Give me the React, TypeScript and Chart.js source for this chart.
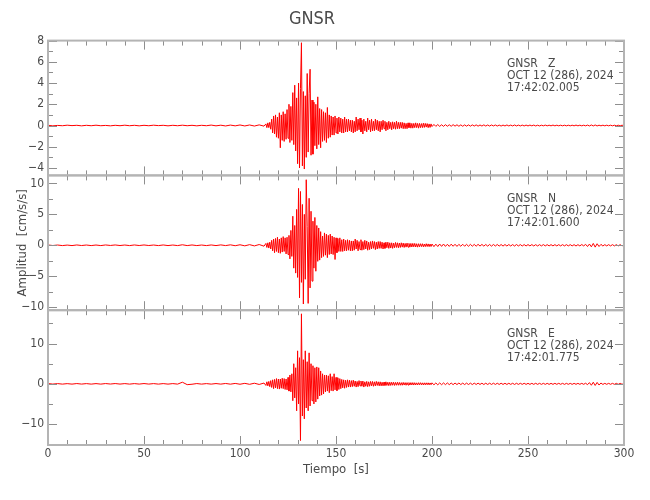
import React, { useEffect, useRef } from 'react';
import { Chart, registerables } from 'chart.js';

Chart.register(...registerables);

// ---------- text ----------
const TITLE = 'GNSR';
const STATION = 'GNSR';
const COMPONENTS = ['Z', 'N', 'E'];
const DATE_LABEL = 'OCT 12 (286), 2024';
const START_TIMES = ['17:42:02.005', '17:42:01.600', '17:42:01.775'];
const X_LABEL = 'Tiempo  [s]';
const Y_LABEL = 'Amplitud  [cm/s/s]';

// ---------- axes ----------
const X_MIN = 0;
const X_MAX = 300;
const X_MAJOR = [0, 50, 100, 150, 200, 250, 300];
const X_MINOR = [10, 20, 30, 40, 60, 70, 80, 90, 110, 120, 130, 140, 160, 170, 180, 190, 210, 220, 230, 240, 260, 270, 280, 290];

const Z_RANGE = [-4.7, 8];
const Z_MAJOR = [-4, -2, 0, 2, 4, 6, 8];
const Z_MINOR = [-3, -1, 1, 3, 5, 7];

const N_RANGE = [-10.5, 11.3];
const N_MAJOR = [-10, -5, 0, 5, 10];
const N_MINOR = [-7.5, -2.5, 2.5, 7.5];

const E_RANGE = [-15.2, 18.3];
const E_MAJOR = [-10, 0, 10];
const E_MINOR = [-15, -5, 5, 15];

// ---------- sampling of the traces (s) ----------
const PRE_START = 0;
const PRE_STEP = 2.5;
const EVT_START = 113.5;
const EVT_STEP = 0.5;
const TAIL_START = 200;
const TAIL_STEP = 1;

// ---------- Z component (cm/s/s) ----------
const Z_PRE = [
  0.02, -0.03, 0.01, -0.02, 0.03, -0.01, 0.02, -0.03, 0.02, -0.02,
  0.03, -0.02, 0.01, -0.03, 0.02, -0.02, 0.03, -0.02, 0.02, -0.03,
  0.02, -0.02, 0.03, -0.01, 0.02, -0.03, 0.02, -0.02, 0.03, -0.02,
  0.02, -0.03, 0.02, -0.02, 0.04, -0.03, 0.03, -0.04, 0.04, -0.03,
  0.05, -0.04, 0.05, -0.05, 0.06, -0.06,
];
const Z_EVENT = [
  0.15, -0.2, 0.25, -0.2, 0.3, -0.35,
  0.6, -0.7, 0.9, -0.8, 1.0, -1.1, 0.8, -1.2,
  1.2, -2.1, 1.0, -1.4, 1.3, -1.5, 1.1, -1.3,
  1.5, -1.2, 2.0, -1.6, 1.8, -1.4, 3.1, -1.8,
  3.8, -2.4, 2.6, -3.6, 4.0, -4.0, 3.5, 7.8,
  -3.8, 3.2, -4.1, 2.8, -3.0, 4.9, -2.5, 3.0,
  5.3, -2.8, 2.4, -2.7, 2.2, -1.9, 2.0, -2.2,
  2.7, -1.8, 1.6, -2.1, 1.5, -1.5, 1.3, -1.4,
  1.2, -1.6, 1.7, -1.2, 1.0, -1.1, 0.9, -0.9,
  0.8, -0.9, 0.9, -0.7, 0.7, -0.8, 0.8, -0.6,
  0.7, -0.7, 0.6, -0.7, 0.8, -0.6, 0.6, -0.6,
  0.6, -0.5, 0.5, -0.6,
  0.5, -0.7, 0.4, -0.6, 0.8, -0.5, 0.6, -0.4, 0.7, -0.6,
  0.5, -0.8, 0.6, -0.5, 0.4, -0.6, 0.7, -0.4, 0.5, -0.6,
  0.6, -0.5, 0.4, -0.5, 0.6, -0.4, 0.5, -0.5, 0.4, -0.6,
  0.4, -0.4, 0.5, -0.3, 0.4, -0.5, 0.3, -0.4, 0.4, -0.3,
  0.3, -0.4, 0.35, -0.3, 0.3, -0.35, 0.4, -0.3, 0.3, -0.3,
  0.3, -0.25, 0.3, -0.3, 0.25, -0.3, 0.2, -0.3, 0.25, -0.2,
  0.25, -0.25, 0.2, -0.25, 0.2, -0.2, 0.25, -0.2, 0.2, -0.25,
  0.2, -0.2, 0.18, -0.2, 0.22, -0.18, 0.2, -0.15, 0.18, -0.2,
  0.15, -0.18, 0.15,
];
const Z_TAIL = [
  -0.1, 0.1, -0.08, 0.09, -0.08, 0.07, -0.08, 0.08, -0.07, 0.07,
  -0.07, 0.08, -0.06, 0.07, -0.07, 0.06, -0.07, 0.06, -0.06, 0.06,
  -0.06, 0.06, -0.05, 0.06, -0.06, 0.05, -0.05, 0.06, -0.05, 0.05,
  -0.05, 0.05, -0.04, 0.05, -0.05, 0.04, -0.05, 0.04, -0.04, 0.05,
  -0.04, 0.04, -0.04, 0.05, -0.04, 0.04, -0.04, 0.04, -0.04, 0.04,
  -0.04, 0.04, -0.03, 0.04, -0.04, 0.03, -0.04, 0.03, -0.03, 0.04,
  -0.03, 0.03, -0.03, 0.04, -0.03, 0.03, -0.03, 0.03, -0.03, 0.03,
  -0.03, 0.03, -0.03, 0.03, -0.03, 0.04, -0.03, 0.03, -0.03, 0.03,
  -0.03, 0.04, -0.04, 0.05, -0.04, 0.05, -0.04, 0.03, -0.03, 0.03,
  -0.03, 0.03, -0.03, 0.03, -0.03, 0.03, -0.03, 0.03, -0.03, 0.03,
  -0.03,
];

// ---------- N component ----------
const N_PRE = [
  0.05, -0.04, 0.04, -0.05, 0.03, -0.05, 0.05, -0.04, 0.04, -0.05,
  0.04, -0.05, 0.05, -0.03, 0.05, -0.04, 0.04, -0.05, 0.05, -0.04,
  0.05, -0.04, 0.04, -0.05, 0.05, -0.05, 0.04, -0.05, 0.08, -0.05,
  0.05, -0.05, 0.04, -0.05, 0.05, -0.05, 0.06, -0.05, 0.07, -0.07,
  0.08, -0.09, 0.1, -0.1, 0.12, -0.15,
];
const N_EVENT = [
  0.3, -0.35, 0.4, -0.45, 0.5, -0.6,
  0.8, -0.9, 1.0, -1.2, 1.1, -1.0, 1.3, -1.2,
  1.0, -1.3, 1.2, -1.1, 1.4, -1.0, 1.2, -1.4,
  1.3, -1.5, 1.6, -2.2, 2.4, -1.8, 4.7, -3.7,
  3.2, -4.5, 5.8, -5.2, 9.2, -8.5, 8.7, -6.0,
  6.6, -9.5, 5.0, -5.5, 10.6, 3.0, -9.4, 7.6,
  -6.9, 5.5, -5.8, 3.9, -3.7, 4.5, -4.2, 3.2,
  -2.6, 2.8, -2.4, 2.2, -2.0, 1.5, -1.8, 2.0,
  -1.6, 1.8, -2.0, 1.6, -1.5, 1.8, -1.4, 1.5,
  -1.5, 1.3, -2.3, 1.2, -1.2, 1.1, -1.0, 1.2,
  -1.0, 0.9, -1.0, 1.0, -0.9, 0.8, -0.9, 0.9,
  -0.8, 0.8, -0.9, 0.7,
  -0.9, 0.7, -0.8, 1.0, -0.6, 0.8, -0.9, 0.6, -0.7, 0.9,
  -0.8, 0.6, -0.7, 0.8, -0.6, 0.7, -0.8, 0.5, -0.7, 0.6,
  -0.6, 0.7, -0.5, 0.6, -0.7, 0.5, -0.6, 0.6, -0.5, 0.6,
  -0.5, 0.5, -0.6, 0.4, -0.5, 0.5, -0.4, 0.5, -0.5, 0.4,
  -0.45, 0.4, -0.5, 0.35, -0.4, 0.45, -0.35, 0.4, -0.4, 0.35,
  -0.35, 0.4, -0.3, 0.35, -0.35, 0.3, -0.3, 0.35, -0.3, 0.3,
  -0.3, 0.3, -0.28, 0.3, -0.25, 0.3, -0.28, 0.25, -0.3, 0.25,
  -0.25, 0.25, -0.22, 0.25, -0.25, 0.2, -0.22, 0.25, -0.2, 0.22,
  -0.22, 0.2, -0.2,
];
const N_TAIL = [
  0.2, -0.22, 0.18, -0.2, 0.2, -0.18, 0.2, -0.18, 0.16, -0.18,
  0.18, -0.16, 0.16, -0.18, 0.15, -0.16, 0.16, -0.15, 0.15, -0.16,
  0.15, -0.15, 0.14, -0.15, 0.15, -0.13, 0.14, -0.14, 0.13, -0.14,
  0.13, -0.14, 0.13, -0.12, 0.13, -0.13, 0.12, -0.13, 0.12, -0.12,
  0.12, -0.12, 0.11, -0.12, 0.12, -0.11, 0.11, -0.12, 0.11, -0.11,
  0.11, -0.1, 0.11, -0.11, 0.1, -0.11, 0.1, -0.1, 0.11, -0.1,
  0.1, -0.1, 0.1, -0.1, 0.1, -0.1, 0.1, -0.1, 0.1, -0.1,
  0.1, -0.1, 0.1, -0.1, 0.1, -0.12, 0.1, -0.1, 0.12, -0.1,
  0.15, -0.2, 0.2, -0.25, 0.3, -0.3, 0.25, -0.2, 0.15, -0.12,
  0.1, -0.1, 0.1, -0.1, 0.1, -0.1, 0.1, -0.1, 0.1, -0.1,
  0.1,
];

// ---------- E component ----------
const E_PRE = [
  0.07, -0.06, 0.06, -0.07, 0.05, -0.07, 0.07, -0.06, 0.06, -0.07,
  0.06, -0.07, 0.07, -0.05, 0.07, -0.06, 0.06, -0.07, 0.06, -0.06,
  0.07, -0.06, 0.06, -0.07, 0.06, -0.07, 0.06, -0.07, 0.4, -0.2,
  -0.1, 0.07, -0.07, 0.06, -0.07, 0.07, -0.07, 0.09, -0.08, 0.1,
  -0.1, 0.12, -0.12, 0.15, -0.15, 0.2,
];
const E_EVENT = [
  -0.4, 0.5, -0.5, 0.6, -0.7, 0.8,
  -0.9, 1.0, -1.2, 1.1, -1.0, 1.3, -1.2, 1.2,
  -1.3, 1.2, -1.1, 1.4, -1.2, 1.3, -1.4, 1.2,
  -1.5, 1.6, -1.8, 2.2, -2.0, 2.5, -4.2, 5.0,
  -3.5, 4.0, -6.7, 8.2, -5.0, 6.5, -14.1, 17.4,
  -8.0, 6.0, -8.7, 8.2, -6.0, 5.5, -6.7, 7.7,
  -5.5, 5.0, -4.2, 4.5, -5.0, 4.0, -4.5, 4.2,
  -3.8, 4.0, -3.0, 3.2, -2.8, 2.5, -2.5, 2.2,
  -2.0, 2.2, -1.8, 2.0, -2.2, 2.5, -1.7, 1.8,
  -1.8, 2.5, -1.5, 1.6, -1.7, 1.5, -1.4, 1.3,
  -1.2, 1.1, -1.0, 1.0, -1.1, 0.9, -0.9, 1.0,
  -0.8, 0.9, -0.8, 0.8,
  -0.7, 0.9, -0.6, 0.7, -0.8, 0.6, -0.7, 0.8, -0.5, 0.7,
  -0.6, 0.7, -0.8, 0.5, -0.6, 0.6, -0.7, 0.5, -0.6, 0.6,
  -0.5, 0.6, -0.6, 0.5, -0.5, 0.6, -0.4, 0.5, -0.5, 0.5,
  -0.5, 0.4, -0.5, 0.45, -0.4, 0.5, -0.4, 0.4, -0.45, 0.4,
  -0.4, 0.4, -0.35, 0.4, -0.4, 0.35, -0.35, 0.4, -0.35, 0.35,
  -0.35, 0.3, -0.35, 0.35, -0.3, 0.3, -0.35, 0.3, -0.3, 0.3,
  -0.3, 0.3, -0.28, 0.3, -0.3, 0.28, -0.28, 0.25, -0.28, 0.28,
  -0.25, 0.28, -0.25, 0.25, -0.28, 0.25, -0.25, 0.25, -0.22, 0.25,
  -0.25, 0.22, -0.22,
];
const E_TAIL = [
  0.25, -0.25, 0.22, -0.25, 0.22, -0.22, 0.22, -0.2, 0.22, -0.2,
  0.2, -0.2, 0.2, -0.18, 0.2, -0.18, 0.18, -0.18, 0.18, -0.17,
  0.17, -0.18, 0.17, -0.16, 0.17, -0.16, 0.16, -0.17, 0.16, -0.16,
  0.16, -0.15, 0.16, -0.15, 0.15, -0.15, 0.15, -0.15, 0.14, -0.15,
  0.14, -0.14, 0.14, -0.15, 0.14, -0.14, 0.14, -0.13, 0.14, -0.14,
  0.13, -0.14, 0.13, -0.13, 0.14, -0.13, 0.13, -0.13, 0.13, -0.13,
  0.13, -0.13, 0.12, -0.13, 0.13, -0.12, 0.13, -0.12, 0.12, -0.13,
  0.12, -0.12, 0.12, -0.13, 0.12, -0.12, 0.12, -0.12, 0.12, -0.12,
  0.15, -0.2, 0.3, -0.35, 0.4, -0.4, 0.35, -0.3, 0.2, -0.15,
  0.12, -0.12, 0.12, -0.12, 0.12, -0.12, 0.12, -0.12, 0.12, -0.12,
  0.1,
];

// ---------- style ----------
const FONT_FAMILY = '"Liberation Sans Narrow", "DejaVu Sans Condensed", "Liberation Sans", sans-serif';
const TEXT_COLOR = '#4a4a4a';
const AXIS_COLOR = '#b4b4b4';
const TICK_COLOR = '#8e8e8e';
const TRACE_COLOR = '#ff0000';

function buildSeries(pre: number[], evt: number[], tail: number[]) {
  const pts: { x: number; y: number }[] = [];
  pre.forEach((v, i) => pts.push({ x: PRE_START + i * PRE_STEP, y: v }));
  evt.forEach((v, i) => pts.push({ x: EVT_START + i * EVT_STEP, y: v }));
  tail.forEach((v, i) => pts.push({ x: TAIL_START + i * TAIL_STEP, y: v }));
  return pts;
}

const fmt = (v: number) => (v < 0 ? '\u2212' + Math.abs(v) : String(v));

const PANELS = [
  { id: 'yZ', comp: 0, major: Z_MAJOR, minor: Z_MINOR },
  { id: 'yN', comp: 1, major: N_MAJOR, minor: N_MINOR },
  { id: 'yE', comp: 2, major: E_MAJOR, minor: E_MINOR },
];

const panelPlugin = {
  id: 'panelAxes',
  afterDatasetsDraw(chart: any) {
    const ctx = chart.ctx;
    const xs = chart.scales.x;
    const { left, right } = chart.chartArea;
    ctx.save();
    PANELS.forEach((p) => {
      const ys = chart.scales[p.id];
      const top = ys.top;
      const bottom = ys.bottom;
      ctx.strokeStyle = TICK_COLOR;
      ctx.lineWidth = 1;
      ctx.beginPath();
      const yTicks = (vals: number[], len: number) => {
        vals.forEach((v) => {
          const py = Math.round(ys.getPixelForValue(v)) + 0.5;
          ctx.moveTo(left, py);
          ctx.lineTo(left + len, py);
          ctx.moveTo(right, py);
          ctx.lineTo(right - len, py);
        });
      };
      const xTicks = (vals: number[], len: number) => {
        vals.forEach((v) => {
          const px = Math.round(xs.getPixelForValue(v)) + 0.5;
          ctx.moveTo(px, top);
          ctx.lineTo(px, top + len);
          ctx.moveTo(px, bottom);
          ctx.lineTo(px, bottom - len);
        });
      };
      yTicks(p.major, 9);
      yTicks(p.minor, 5);
      xTicks(X_MAJOR, 9);
      xTicks(X_MINOR, 5);
      ctx.stroke();

      ctx.strokeStyle = AXIS_COLOR;
      ctx.lineWidth = 2;
      ctx.strokeRect(left, top, right - left, bottom - top);

      ctx.fillStyle = TEXT_COLOR;
      ctx.font = '12px ' + FONT_FAMILY;
      ctx.textBaseline = 'middle';
      ctx.textAlign = 'left';
      const tx = right - 117;
      ctx.fillText(STATION + '   ' + COMPONENTS[p.comp], tx, top + 23.5);
      ctx.fillText(DATE_LABEL, tx, top + 35.5);
      ctx.fillText(START_TIMES[p.comp], tx, top + 47.5);
    });
    ctx.restore();
  },
};

function yAxis(range: number[], major: number[], title?: string) {
  return {
    type: 'linear',
    position: 'left',
    stack: 'traces',
    stackWeight: 1,
    min: range[0],
    max: range[1],
    grid: { display: false, drawTicks: false },
    border: { display: false },
    afterBuildTicks: (s: any) => {
      s.ticks = major.map((v) => ({ value: v }));
    },
    afterFit: (s: any) => {
      s.width = 48;
    },
    ticks: {
      padding: 4,
      autoSkip: false,
      color: TEXT_COLOR,
      font: { family: FONT_FAMILY, size: 12 },
      callback: (v: number) => fmt(v),
    },
    title: title
      ? {
          display: true,
          text: title,
          color: TEXT_COLOR,
          font: { family: FONT_FAMILY, size: 13 },
          padding: { top: 15, bottom: 0 },
        }
      : { display: false },
  };
}

export default function App() {
  const ref = useRef<HTMLCanvasElement | null>(null);

  useEffect(() => {
    if (!ref.current) return;
    const chart = new Chart(ref.current, {
      type: 'line',
      data: {
        datasets: [
          { label: 'Z', yAxisID: 'yZ', data: buildSeries(Z_PRE, Z_EVENT, Z_TAIL) },
          { label: 'N', yAxisID: 'yN', data: buildSeries(N_PRE, N_EVENT, N_TAIL) },
          { label: 'E', yAxisID: 'yE', data: buildSeries(E_PRE, E_EVENT, E_TAIL) },
        ].map((d) => ({
          ...d,
          borderColor: TRACE_COLOR,
          borderWidth: 1,
          pointRadius: 0,
          tension: 0,
          fill: false,
        })),
      },
      options: {
        responsive: false,
        animation: false,
        devicePixelRatio: 1,
        events: [],
        parsing: false,
        normalized: true,
        layout: { padding: { top: 0, right: 26, bottom: 0, left: 0 } },
        plugins: {
          legend: { display: false },
          tooltip: { enabled: false },
          title: {
            display: true,
            text: TITLE,
            color: TEXT_COLOR,
            font: { family: FONT_FAMILY, size: 18, weight: 'normal' },
            padding: { top: 9, bottom: 10 },
          },
        },
        scales: {
          x: {
            type: 'linear',
            min: X_MIN,
            max: X_MAX,
            grid: { display: false, drawTicks: false },
            border: { display: false },
            afterBuildTicks: (s: any) => {
              s.ticks = X_MAJOR.map((v) => ({ value: v }));
            },
            afterFit: (s: any) => {
              s.height = 55;
            },
            ticks: {
              padding: 2,
              autoSkip: false,
              maxRotation: 0,
              color: TEXT_COLOR,
              font: { family: FONT_FAMILY, size: 12 },
            },
            title: {
              display: true,
              text: X_LABEL,
              color: TEXT_COLOR,
              font: { family: FONT_FAMILY, size: 13 },
              padding: { top: 0, bottom: 23 },
            },
          },
          yE: yAxis(E_RANGE, E_MAJOR),
          yN: yAxis(N_RANGE, N_MAJOR, Y_LABEL),
          yZ: yAxis(Z_RANGE, Z_MAJOR),
        },
      } as any,
      plugins: [panelPlugin],
    });
    return () => chart.destroy();
  }, []);

  return (
    <div style={{ position: 'absolute', left: 0, top: 0, width: 650, height: 500, background: '#ffffff' }}>
      <canvas ref={ref} width={650} height={500} style={{ display: 'block' }} />
    </div>
  );
}
